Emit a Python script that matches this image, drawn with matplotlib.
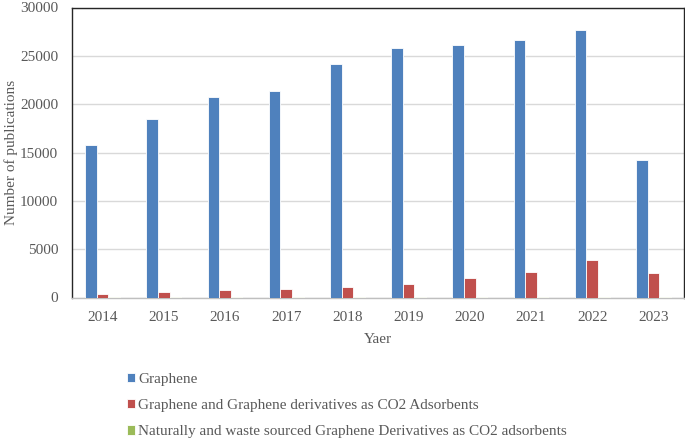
import matplotlib
matplotlib.use("Agg")
import matplotlib.pyplot as plt
import numpy as np

years = ["2014", "2015", "2016", "2017", "2018", "2019", "2020", "2021", "2022", "2023"]
graphene = [15800, 18500, 20750, 21400, 24200, 25800, 26150, 26600, 27650, 14200]
graphene_co2 = [350, 600, 730, 870, 1050, 1350, 2000, 2600, 3900, 2550]
natural_waste = [3, 4, 5, 6, 8, 10, 12, 15, 18, 12]
series_names = ["Graphene",
                "Graphene and Graphene derivatives as CO2 Adsorbents",
                "Naturally and waste sourced Graphene Derivatives as CO2 adsorbents"]
colors = ["#4f81bd", "#c0504d", "#9bbb59"]

plt.rcParams['font.family'] = ['Liberation Serif', 'DejaVu Serif']

fig = plt.figure(figsize=(6.85, 4.41), dpi=100)
ax = fig.add_axes([72/685, 1-297.5/441, 612/685, 290/441])

x = np.arange(len(years))
w = 0.19
for i, (vals, name, c) in enumerate(zip([graphene, graphene_co2, natural_waste], series_names, colors)):
    ax.bar(x + (i-1)*w, vals, width=w, color=c, edgecolor="white", linewidth=0.6, label=name, zorder=3)

ax.set_xlim(-0.5, len(years)-0.5)
ax.set_ylim(0, 30000)
ax.set_yticks(range(0, 30001, 5000))
ax.set_xticks(x)
ax.set_xticklabels(years)
ax.grid(axis='y', color='#d9d9d9', linewidth=1.0, zorder=0)
ax.tick_params(axis='both', length=0, labelsize=11, colors='#595959')
ax.tick_params(axis='x', pad=10)
ax.tick_params(axis='y', pad=10)
for s in ['left', 'top', 'right']:
    ax.spines[s].set_color('#262626')
    ax.spines[s].set_linewidth(1.0)
ax.spines['bottom'].set_color('#bfbfbf')
ax.spines['bottom'].set_linewidth(1.0)

ax.set_ylabel("Number of publications", fontsize=11, color='#595959', labelpad=1.5)
ax.set_xlabel("Yaer", fontsize=11, color='#595959', labelpad=6)

fig.legend(loc='center left', bbox_to_anchor=(119/685, 1-405.5/441), frameon=False,
           fontsize=11, handlelength=0.55, handleheight=0.55, handletextpad=0.2,
           labelspacing=0.88, borderpad=0, labelcolor='#595959')

fig.savefig("out.png", dpi=100)
